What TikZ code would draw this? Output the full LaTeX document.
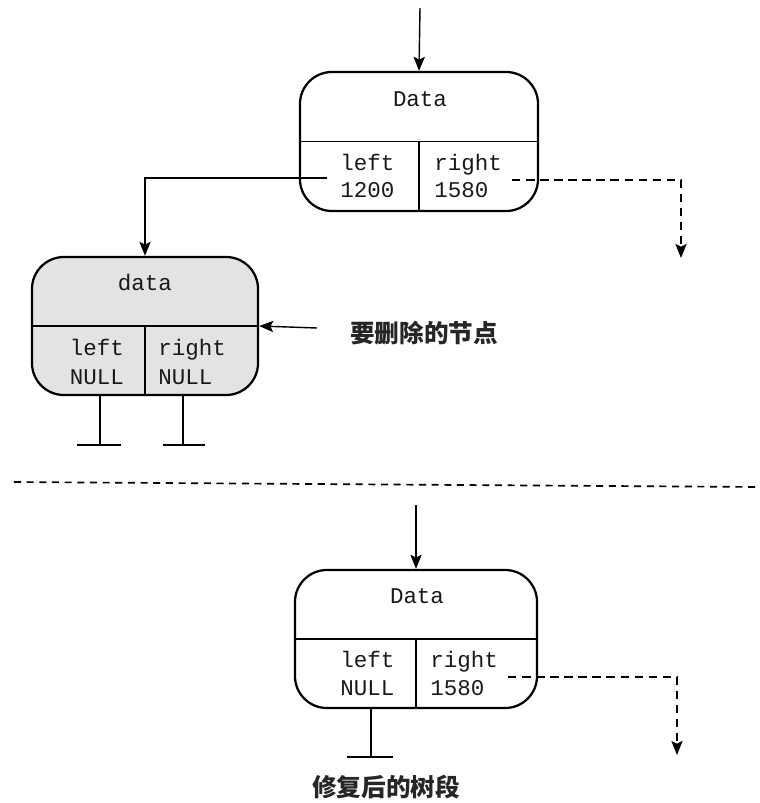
\documentclass[tikz,border=0pt]{standalone}
\usepackage{fontspec}
\setmonofont{Liberation Mono}
\newfontfamily\cjk{Noto Sans CJK SC}
\usetikzlibrary{positioning}
\usetikzlibrary{arrows.meta}

\begin{document}
\begin{tikzpicture}[x=0.025cm, y=-0.025cm,
    nodebox/.style={draw, line width=1.6pt, rounded corners=0.8cm, inner sep=0pt},
    txt/.style={font=\ttfamily\fontsize{16}{18}\selectfont, text=black!90, inner sep=0pt},
    note/.style={font=\cjk\bfseries\fontsize{17.5}{20}\selectfont, text=black!85, inner sep=0pt},
    arr/.style={line width=1pt, -{Stealth[length=10pt, width=8pt, inset=2pt]}},
    dsh/.style={dash pattern=on 6pt off 4pt}]
    \useasboundingbox (0,0) rectangle (760,803);

    % Node before deletion
    \node[nodebox, minimum width=5.95cm, minimum height=3.475cm] (top) at (419,141.5) {};
    \draw[line width=1pt] (top.west) -- (top.east);
    \draw[line width=1pt] (top.center) -- (top.south);
    \node[txt, anchor=base] (topdata) at (420,106) {Data};
    \node[txt, anchor=base west] (topleft) at (340,170) {left};
    \node[txt, anchor=base west] (topladdr) at (340,197) {1200};
    \node[txt, anchor=base west] (topright) at (434,170) {right};
    \node[txt, anchor=base west] (topraddr) at (434,197) {1580};

    % Node to be deleted
    \node[nodebox, fill=gray!22, minimum width=5.65cm, minimum height=3.45cm] (del) at (145,326) {};
    \draw[line width=1pt] (del.west) -- (del.east);
    \draw[line width=1pt] (del.center) -- (del.south);
    \node[txt, anchor=base] (deldata) at (145,290) {data};
    \node[txt, anchor=base] (delleft) at (97,355) {left};
    \node[txt, anchor=base] (delladdr) at (97,384) {NULL};
    \node[txt, anchor=base west] (delright) at (158,355) {right};
    \node[txt, anchor=base west] (delraddr) at (158,384) {NULL};
    \node[note, anchor=west] (dellbl) at (350,333) {要删除的节点};

    % Links of the upper part
    \coordinate (topin) at (420,8);
    \coordinate (lstart) at (327,178);
    \coordinate (rstart) at (512,180);
    \coordinate (rend) at (681,258);
    \coordinate (ptr) at (317,328);
    \draw[arr] (topin) -- (top.north);
    \draw[arr] (lstart) -| (del.north);
    \draw[arr, dsh] (rstart) -| (rend);
    \draw[arr] (ptr) -- (del.east);

    % Grounds under the deleted node
    \coordinate (g1) at (100,445);
    \coordinate (g2) at (183,445);
    \draw[line width=1.2pt] (g1 |- del.south) -- (g1);
    \draw[line width=1.2pt] (g2 |- del.south) -- (g2);
    \draw[line width=1.2pt] (g1) ++(-23,0) -- ++(44,0);
    \draw[line width=1.2pt] (g2) ++(-20,0) -- ++(42,0);

    % Separator
    \coordinate (sepl) at (14,482);
    \coordinate (sepr) at (760,487);
    \draw[line width=1.2pt, dash pattern=on 5pt off 4pt] (sepl) -- (sepr);

    % Repaired node
    \node[nodebox, minimum width=6.05cm, minimum height=3.45cm] (fix) at (416,639) {};
    \draw[line width=1pt] (fix.west) -- (fix.east);
    \draw[line width=1pt] (fix.center) -- (fix.south);
    \node[txt, anchor=base] (fixdata) at (417,603) {Data};
    \node[txt, anchor=base west] (fixleft) at (340,667) {left};
    \node[txt, anchor=base west] (fixladdr) at (340,695) {NULL};
    \node[txt, anchor=base west] (fixright) at (430,667) {right};
    \node[txt, anchor=base west] (fixraddr) at (430,695) {1580};
    \node[note] (fixlbl) at (386,787) {修复后的树段};

    % Links of the lower part
    \coordinate (fixin) at (416,505);
    \coordinate (frstart) at (508,677);
    \coordinate (frend) at (677,755);
    \coordinate (g3) at (371,757);
    \draw[arr] (fixin) -- (fix.north);
    \draw[arr, dsh] (frstart) -| (frend);
    \draw[line width=1.2pt] (g3 |- fix.south) -- (g3);
    \draw[line width=1.2pt] (g3) ++(-24,0) -- ++(46,0);
\end{tikzpicture}
\end{document}
